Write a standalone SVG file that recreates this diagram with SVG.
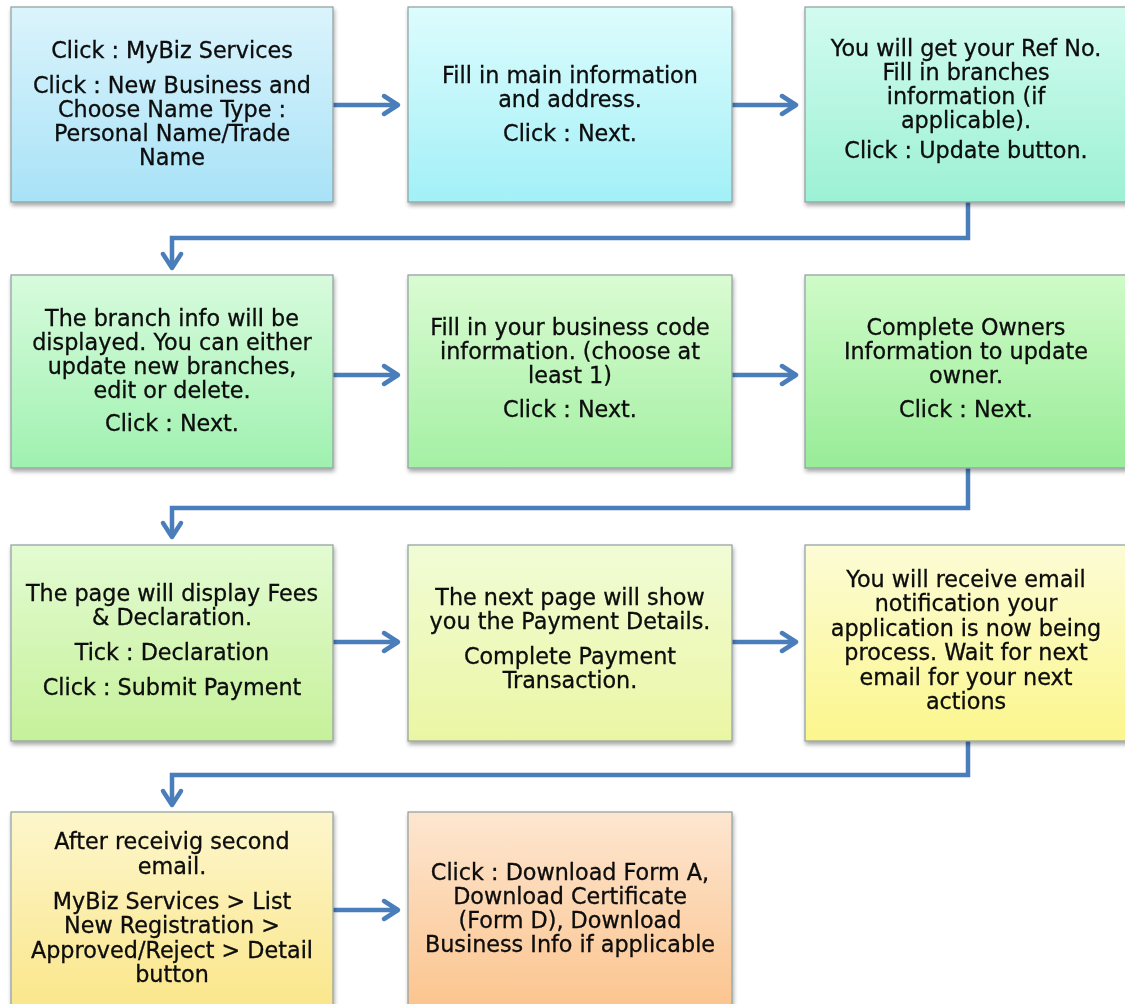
<svg xmlns="http://www.w3.org/2000/svg" width="1125" height="1004" viewBox="0 0 1125 1004">
<style>
.box{stroke:#8e9e9e;stroke-width:1.2}
.t{font-family:"DejaVu Sans",Verdana,sans-serif;font-size:22.3px;fill:#0a0a0a;stroke:#0a0a0a;stroke-width:0.3;text-anchor:middle}
.c{fill:none;stroke:#4a7ebb;stroke-width:4.5;stroke-linejoin:miter}
.h{fill:none;stroke:#4a7ebb;stroke-width:4.5;stroke-linecap:round;stroke-linejoin:round}
</style>
<defs>
<filter id="sh" x="-5%" y="-5%" width="115%" height="115%">
<feGaussianBlur in="SourceAlpha" stdDeviation="2"/>
<feOffset dx="1" dy="3" result="b"/>
<feComponentTransfer><feFuncA type="linear" slope="0.35"/></feComponentTransfer>
<feMerge><feMergeNode/><feMergeNode in="SourceGraphic"/></feMerge>
</filter>
<linearGradient id="g1" x1="0" y1="0" x2="0" y2="1"><stop offset="0" stop-color="#dbf4fc"/><stop offset="1" stop-color="#a8e2f7"/></linearGradient>
<linearGradient id="g2" x1="0" y1="0" x2="0" y2="1"><stop offset="0" stop-color="#ddfcfd"/><stop offset="1" stop-color="#a2f0f7"/></linearGradient>
<linearGradient id="g3" x1="0" y1="0" x2="0" y2="1"><stop offset="0" stop-color="#d2fbef"/><stop offset="1" stop-color="#9cf1d4"/></linearGradient>
<linearGradient id="g4" x1="0" y1="0" x2="0" y2="1"><stop offset="0" stop-color="#d8fbdd"/><stop offset="1" stop-color="#9ff1b0"/></linearGradient>
<linearGradient id="g5" x1="0" y1="0" x2="0" y2="1"><stop offset="0" stop-color="#dafbd2"/><stop offset="1" stop-color="#a4f0a4"/></linearGradient>
<linearGradient id="g6" x1="0" y1="0" x2="0" y2="1"><stop offset="0" stop-color="#cffbc8"/><stop offset="1" stop-color="#98ec98"/></linearGradient>
<linearGradient id="g7" x1="0" y1="0" x2="0" y2="1"><stop offset="0" stop-color="#e3fbd2"/><stop offset="1" stop-color="#c6f19a"/></linearGradient>
<linearGradient id="g8" x1="0" y1="0" x2="0" y2="1"><stop offset="0" stop-color="#f1fcd6"/><stop offset="1" stop-color="#ebf6a4"/></linearGradient>
<linearGradient id="g9" x1="0" y1="0" x2="0" y2="1"><stop offset="0" stop-color="#fcfcd6"/><stop offset="1" stop-color="#fbf68c"/></linearGradient>
<linearGradient id="g10" x1="0" y1="0" x2="0" y2="1"><stop offset="0" stop-color="#fdf6cc"/><stop offset="1" stop-color="#fae68a"/></linearGradient>
<linearGradient id="g11" x1="0" y1="0" x2="0" y2="1"><stop offset="0" stop-color="#fde6d0"/><stop offset="1" stop-color="#fbc48e"/></linearGradient>
</defs>
<rect width="1125" height="1004" fill="#ffffff"/>

<g id="connectors">
<path class="h" d="M334 105 H397 M384 96 L398 105 L384 114"/>
<path class="h" d="M732 105 H795 M782 96 L796 105 L782 114"/>
<path class="c" d="M968 202 V238 H172 V266"/>
<path class="h" d="M163 254 L172 268 L181 254"/>
<path class="h" d="M334 375 H397 M384 366 L398 375 L384 384"/>
<path class="h" d="M732 375 H795 M782 366 L796 375 L782 384"/>
<path class="c" d="M968 468 V508 H172 V535"/>
<path class="h" d="M163 523 L172 537 L181 523"/>
<path class="h" d="M334 642 H397 M384 633 L398 642 L384 651"/>
<path class="h" d="M732 642 H795 M782 633 L796 642 L782 651"/>
<path class="c" d="M968 741 V775 H172 V803"/>
<path class="h" d="M163 791 L172 805 L181 791"/>
<path class="h" d="M334 910 H397 M384 901 L398 910 L384 919"/>
</g>

<g id="n1" filter="url(#sh)">
<rect class="box" x="11" y="7" width="322" height="195" fill="url(#g1)"/>
<text class="t"><tspan x="172" y="58">Click : MyBiz Services</tspan><tspan x="172" y="93">Click : New Business and</tspan><tspan x="172" y="117">Choose Name Type :</tspan><tspan x="172" y="141">Personal Name/Trade</tspan><tspan x="172" y="165">Name</tspan></text>
</g>
<g id="n2" filter="url(#sh)">
<rect class="box" x="408" y="7" width="324" height="195" fill="url(#g2)"/>
<text class="t"><tspan x="570" y="83">Fill in main information</tspan><tspan x="570" y="107">and address.</tspan><tspan x="570" y="141">Click : Next.</tspan></text>
</g>
<g id="n3" filter="url(#sh)">
<rect class="box" x="805" y="7" width="324" height="195" fill="url(#g3)"/>
<text class="t"><tspan x="966" y="56">You will get your Ref No.</tspan><tspan x="966" y="80">Fill in branches</tspan><tspan x="966" y="104">information (if</tspan><tspan x="966" y="128">applicable).</tspan><tspan x="966" y="158">Click : Update button.</tspan></text>
</g>

<g id="n4" filter="url(#sh)">
<rect class="box" x="11" y="275" width="322" height="193" fill="url(#g4)"/>
<text class="t"><tspan x="172" y="326">The branch info will be</tspan><tspan x="172" y="350">displayed. You can either</tspan><tspan x="172" y="374">update new branches,</tspan><tspan x="172" y="398">edit or delete.</tspan><tspan x="172" y="431">Click : Next.</tspan></text>
</g>
<g id="n5" filter="url(#sh)">
<rect class="box" x="408" y="275" width="324" height="193" fill="url(#g5)"/>
<text class="t"><tspan x="570" y="335">Fill in your business code</tspan><tspan x="570" y="359">information. (choose at</tspan><tspan x="570" y="383">least 1)</tspan><tspan x="570" y="417">Click : Next.</tspan></text>
</g>
<g id="n6" filter="url(#sh)">
<rect class="box" x="805" y="275" width="324" height="193" fill="url(#g6)"/>
<text class="t"><tspan x="966" y="335">Complete Owners</tspan><tspan x="966" y="359">Information to update</tspan><tspan x="966" y="383">owner.</tspan><tspan x="966" y="417">Click : Next.</tspan></text>
</g>

<g id="n7" filter="url(#sh)">
<rect class="box" x="11" y="545" width="322" height="196" fill="url(#g7)"/>
<text class="t"><tspan x="172" y="601">The page will display Fees</tspan><tspan x="172" y="625">&amp; Declaration.</tspan><tspan x="172" y="660">Tick : Declaration</tspan><tspan x="172" y="695">Click : Submit Payment</tspan></text>
</g>
<g id="n8" filter="url(#sh)">
<rect class="box" x="408" y="545" width="324" height="196" fill="url(#g8)"/>
<text class="t"><tspan x="570" y="605">The next page will show</tspan><tspan x="570" y="629">you the Payment Details.</tspan><tspan x="570" y="664">Complete Payment</tspan><tspan x="570" y="688">Transaction.</tspan></text>
</g>
<g id="n9" filter="url(#sh)">
<rect class="box" x="805" y="545" width="324" height="196" fill="url(#g9)"/>
<text class="t"><tspan x="966" y="587">You will receive email</tspan><tspan x="966" y="611">notification your</tspan><tspan x="966" y="636">application is now being</tspan><tspan x="966" y="660">process. Wait for next</tspan><tspan x="966" y="685">email for your next</tspan><tspan x="966" y="709">actions</tspan></text>
</g>

<g id="n10" filter="url(#sh)">
<rect class="box" x="11" y="812" width="322" height="198" fill="url(#g10)"/>
<text class="t"><tspan x="172" y="849">After receivig second</tspan><tspan x="172" y="874">email.</tspan><tspan x="172" y="909">MyBiz Services &gt; List</tspan><tspan x="172" y="933">New Registration &gt;</tspan><tspan x="172" y="958">Approved/Reject &gt; Detail</tspan><tspan x="172" y="982">button</tspan></text>
</g>
<g id="n11" filter="url(#sh)">
<rect class="box" x="408" y="812" width="324" height="198" fill="url(#g11)"/>
<text class="t"><tspan x="570" y="880">Click : Download Form A,</tspan><tspan x="570" y="904">Download Certificate</tspan><tspan x="570" y="928">(Form D), Download</tspan><tspan x="570" y="952">Business Info if applicable</tspan></text>
</g>
</svg>
